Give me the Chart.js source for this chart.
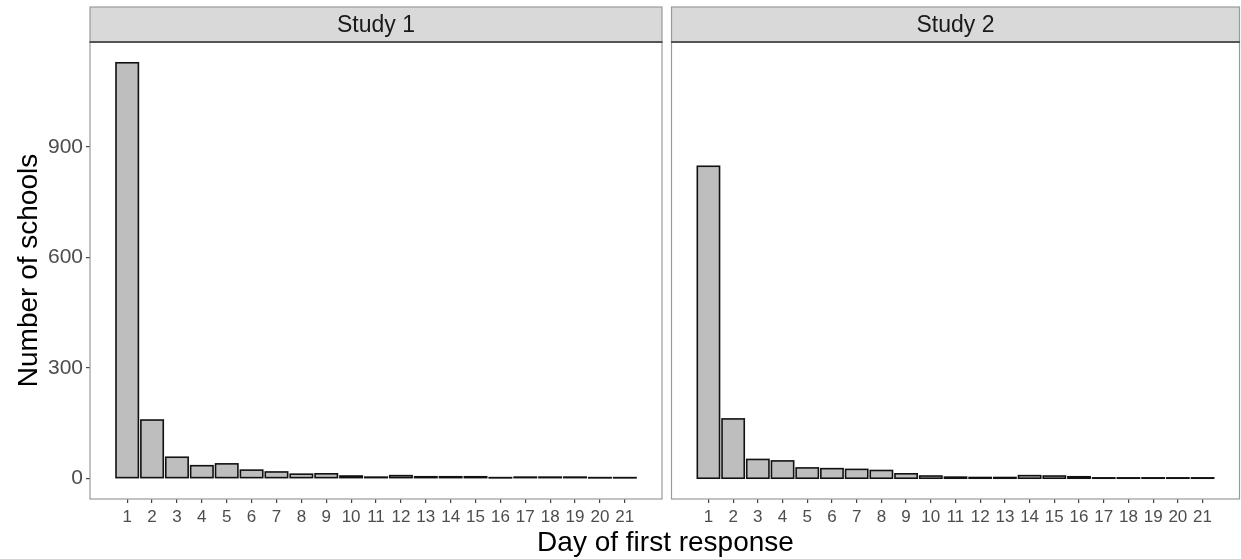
<!DOCTYPE html>
<html>
<head>
<meta charset="utf-8">
<script src="https://cdn.jsdelivr.net/npm/chart.js@4.4.1/dist/chart.umd.min.js"></script>
<style>
    body { margin: 0; background: #fff; }
    #wrap { position: relative; width: 1241px; height: 559px; font-family: "Liberation Sans", Arial, sans-serif; }
    #c1 { position: absolute; left: 0; top: 0; }
    #c2 { position: absolute; left: 666px; top: 0; }
    #xTitle { position: absolute; left: 0; width: 1331px; top: 528px; text-align: center; font-size: 28px; line-height: 28px; color: #000; }
</style>
</head>
<body>
<div id="wrap">
    <canvas id="c1" width="666" height="559"></canvas>
    <canvas id="c2" width="575" height="559"></canvas>
    <div id="xTitle">Day of first response</div>
</div>
<script>
// Data

const days = [1, 2, 3, 4, 5, 6, 7, 8, 9, 10, 11, 12, 13, 14, 15, 16, 17, 18, 19, 20, 21];
const study1 = [1128, 158, 57, 34, 39, 22, 17, 11, 12, 6, 3, 7, 4, 4, 4, 1, 3, 3, 3, 1, 1];
const study2 = [847, 161, 51, 47, 28, 26, 24, 21, 12, 6, 3, 2, 2, 7, 6, 4, 1, 1, 1, 1, 1];
const panels = ['Study 1', 'Study 2'];
const yTicks = [0, 300, 600, 900];
const yTitle = 'Number of schools';

// shared scale limits, padded like a ggplot facet
const peak = Math.max(...study1, ...study2);
const yMin = -peak * 0.05;
const yMax = peak * 1.05;
const xLo = days[0] - 0.45, xHi = days[days.length - 1] + 0.45;
const xPad = (xHi - xLo) * 0.05;

const font = 'Liberation Sans, Arial, sans-serif';

// Strip, panel border and bar outlines

const facetPlugin = {
    id: 'facet',
    beforeDraw(chart, args, opts) {
        const { ctx, chartArea: a } = chart;
        ctx.save();
        ctx.fillStyle = '#d9d9d9';
        ctx.fillRect(a.left, 7, a.right - a.left, a.top - 7);
        ctx.strokeStyle = '#9a9a9a';
        ctx.lineWidth = 1.2;
        ctx.strokeRect(a.left, 7, a.right - a.left, a.top - 7);
        ctx.fillStyle = '#1a1a1a';
        ctx.font = '23px ' + font;
        ctx.textAlign = 'center';
        ctx.textBaseline = 'middle';
        ctx.fillText(opts.label, (a.left + a.right) / 2, (7 + a.top) / 2 + 1);
        ctx.restore();
    },
    afterDatasetsDraw(chart) {
        // outline centred on the bar edges so that tiny bars still show as a line
        const ctx = chart.ctx;
        ctx.save();
        ctx.strokeStyle = '#111';
        ctx.lineWidth = 1.6;
        chart.getDatasetMeta(0).data.forEach(bar => {
            const { x, y, base, width } = bar.getProps(['x', 'y', 'base', 'width'], true);
            ctx.strokeRect(x - width / 2, y, width, base - y);
        });
        ctx.restore();
    },
    afterDraw(chart) {
        const { ctx, chartArea: a } = chart;
        ctx.save();
        ctx.strokeStyle = '#9a9a9a';
        ctx.lineWidth = 1.2;
        ctx.strokeRect(a.left, a.top, a.right - a.left, a.bottom - a.top);
        ctx.strokeStyle = '#555';
        ctx.lineWidth = 2;
        ctx.beginPath();
        ctx.moveTo(a.left - 0.5, a.top);
        ctx.lineTo(a.right + 0.5, a.top);
        ctx.stroke();
        ctx.restore();
    }
};

function makeChart(id, values, label, showY, padLeft, padRight) {
    const ctx = document.getElementById(id).getContext('2d');

    return new Chart(ctx, {
        type: 'bar',
        data: {
            datasets: [
                {
                    data: days.map((d, i) => ({ x: d, y: values[i] })),
                    backgroundColor: '#bebebe',
                    borderWidth: 0,
                    inflateAmount: 0,
                    barPercentage: 0.9,
                    categoryPercentage: 1
                }
            ]
        },
        plugins: [facetPlugin],
        options: {
            responsive: false,
            animation: false,
            layout: { padding: { left: padLeft, right: padRight, top: 42, bottom: 0 } },
            plugins: {
                legend: { display: false },
                tooltip: { enabled: false },
                facet: { label: label }
            },
            scales: {
                x: {
                    type: 'linear',
                    offset: false,
                    min: xLo - xPad,
                    max: xHi + xPad,
                    afterBuildTicks: (s) => { s.ticks = days.map(v => ({ value: v })); },
                    afterFit: (s) => { s.height = 60; },
                    border: { display: false },
                    grid: { offset: false, drawOnChartArea: false, drawTicks: true, tickLength: 4, tickColor: '#444', lineWidth: 1.2 },
                    ticks: { autoSkip: false, maxRotation: 0, padding: 4, color: '#4d4d4d', font: { family: font, size: 17 } }
                },
                y: {
                    display: showY,
                    min: yMin,
                    max: yMax,
                    afterBuildTicks: (s) => { s.ticks = yTicks.map(v => ({ value: v })); },
                    afterFit: (s) => { s.width = showY ? 90 : 0; },
                    border: { display: false },
                    grid: { drawOnChartArea: false, drawTicks: true, tickLength: 4, tickColor: '#444', lineWidth: 1.2 },
                    ticks: { padding: 3, color: '#4d4d4d', font: { family: font, size: 21 } },
                    title: {
                        display: true,
                        text: yTitle,
                        color: '#000',
                        padding: { top: 12, bottom: 0 },
                        font: { family: font, size: 28 }
                    }
                }
            }
        }
    });
}

makeChart('c1', study1, panels[0], true, 0, 4);
makeChart('c2', study2, panels[1], false, 5.5, 1.5);
</script>
</body>
</html>
